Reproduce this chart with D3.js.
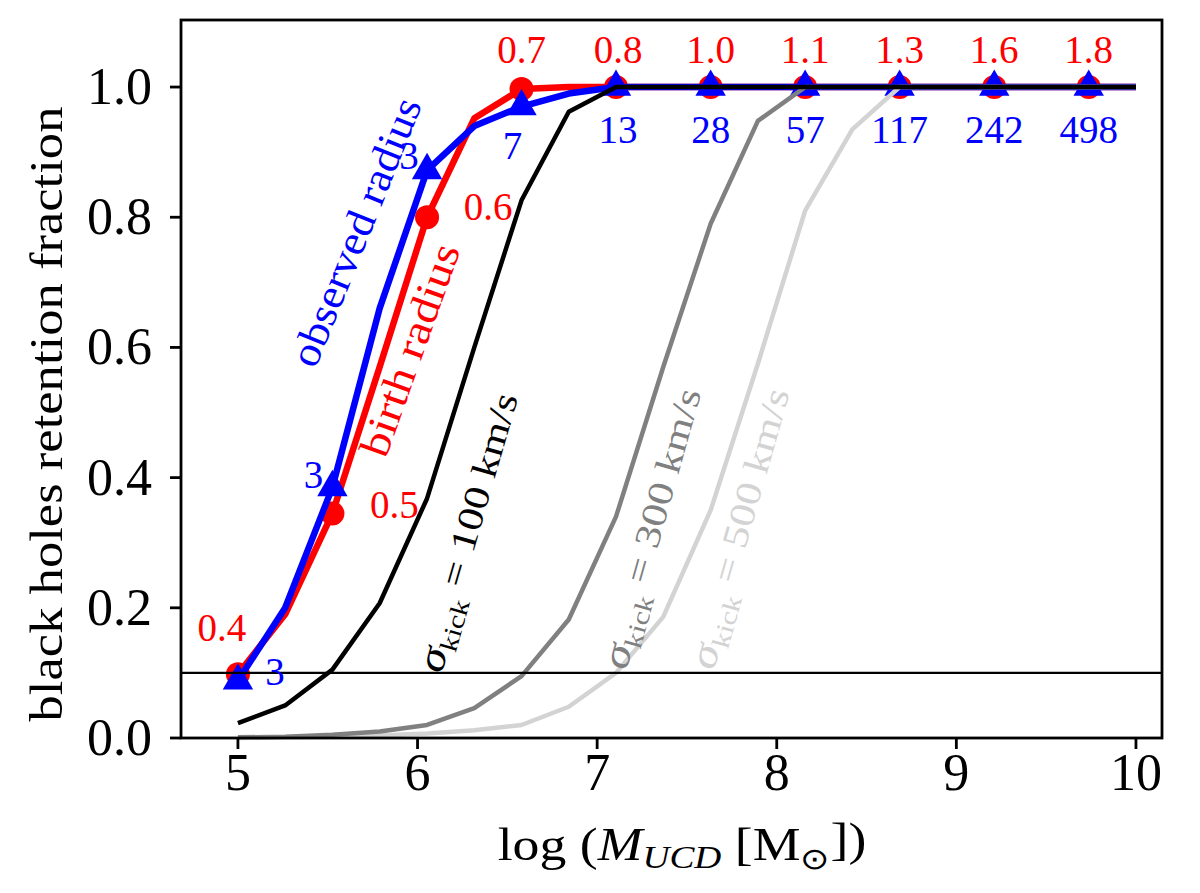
<!DOCTYPE html>
<html><head><meta charset="utf-8">
<script src="https://cdn.jsdelivr.net/npm/d3@7/dist/d3.min.js"></script>
<style>
body{margin:0;background:#fff}
text{font-family:"Liberation Serif","Times New Roman",serif}
</style>
</head><body>
<svg id="chart" width="1200" height="893"></svg>
<script>
// ---------------- data ----------------
const logMass = [5.000,5.263,5.526,5.789,6.053,6.316,6.579,6.842,7.105,7.368,7.632,7.895,8.158,8.421,8.684,8.947,9.211,9.474,9.737,10.000];
const birthRadius    = [0.098,0.19,0.345,0.57,0.80,0.952,0.997,1.0,1.0,1.0,1.0,1.0,1.0,1.0,1.0,1.0,1.0,1.0,1.0,1.0];
const observedRadius = [0.088,0.20,0.385,0.66,0.872,0.94,0.970,0.99,1.0,1.0,1.0,1.0,1.0,1.0,1.0,1.0,1.0,1.0,1.0,1.0];
const kick100 = [0.023,0.05,0.105,0.207,0.368,0.60,0.826,0.962,1.0,1.0,1.0,1.0,1.0,1.0,1.0,1.0,1.0,1.0,1.0,1.0];
const kick300 = [0.001,0.002,0.005,0.010,0.020,0.046,0.095,0.182,0.34,0.57,0.79,0.948,1.0,1.0,1.0,1.0,1.0,1.0,1.0,1.0];
const kick500 = [0.000,0.001,0.002,0.004,0.007,0.012,0.020,0.048,0.10,0.186,0.35,0.575,0.81,0.935,1.0,1.0,1.0,1.0,1.0,1.0];
const birthLabels    = ["0.4","0.5","0.6","0.7","0.8","1.0","1.1","1.3","1.6","1.8"];
const observedLabels = ["3","3","3","7","13","28","57","117","242","498"];
const xTicks = [5,6,7,8,9,10];
const yTicks = [0.0,0.2,0.4,0.6,0.8,1.0];
const threshold = 0.1;

// ---------------- layout ----------------
const L=181, R=1162, T=20, B=738;
const svg = d3.select("#chart");
const x = d3.scaleLinear().domain([4.683,10.145]).range([L,R]);
const y = d3.scaleLinear().domain([0,1.103]).range([B,T]);
const line = d3.line().x((d,i)=>x(logMass[i])).y(d=>y(d));
const markIdx = d3.range(0,logMass.length,2);

const RED="#ff0000", BLUE="#0000ff", GRAY="#808080", LGRAY="#d3d3d3";

const plot = svg.append("g");
// birth radius
plot.append("path").datum(birthRadius).attr("d",line).attr("fill","none")
  .attr("stroke",RED).attr("stroke-width",6.5).attr("stroke-linejoin","round");
plot.selectAll("circle.b").data(markIdx).join("circle")
  .attr("cx",i=>x(logMass[i])).attr("cy",i=>y(birthRadius[i])).attr("r",12).attr("fill",RED);
// observed radius
plot.append("path").datum(observedRadius).attr("d",line).attr("fill","none")
  .attr("stroke",BLUE).attr("stroke-width",6.5).attr("stroke-linejoin","round");
const tri = d3.symbol().type(d3.symbolTriangle).size(400);
plot.selectAll("path.o").data(markIdx).join("path")
  .attr("transform",i=>`translate(${x(logMass[i])},${y(observedRadius[i])})`)
  .attr("d",tri()).attr("fill",BLUE);
// kick curves
[[kick500,LGRAY],[kick300,GRAY],[kick100,"#000"]].forEach(([s,c])=>{
  plot.append("path").datum(s).attr("d",line).attr("fill","none")
    .attr("stroke",c).attr("stroke-width",4.5).attr("stroke-linejoin","round");
});
// threshold line
plot.append("line").attr("x1",L).attr("x2",R).attr("y1",y(threshold)).attr("y2",y(threshold))
  .attr("stroke","#000").attr("stroke-width",2.2);

// annotations
const birthOff = [[-16,-46],[62,-8],[61,-10],[0,-39],[2,-37],[0,-37],[0,-37],[0,-37],[0,-37],[0,-37]];
const obsOff   = [[37,-9],[-19,-12],[-18,-14],[-9,40],[2,43],[0,43],[0,43],[0,43],[0,43],[0,43]];
markIdx.forEach((i,k)=>{
  svg.append("text").attr("x",x(logMass[i])+birthOff[k][0]).attr("y",y(birthRadius[i])+birthOff[k][1])
    .attr("dy","0.33em").attr("text-anchor","middle").attr("font-size",39).attr("fill",RED).text(birthLabels[k]);
  svg.append("text").attr("x",x(logMass[i])+obsOff[k][0]).attr("y",y(observedRadius[i])+obsOff[k][1])
    .attr("dy","0.33em").attr("text-anchor","middle").attr("font-size",39).attr("fill",BLUE).text(observedLabels[k]);
});

// rotated labels
function rotLabel(cx,cy,ang,len,color,size,build){
  const g = svg.append("g").attr("transform",`translate(${cx},${cy}) rotate(${-ang})`);
  const t = g.append("text").attr("text-anchor","middle").attr("dy","0.33em")
    .attr("font-size",size).attr("fill",color);
  build(t);
  const w = t.node().getBBox().width;
  t.attr("transform",`scale(${len/w},1)`);
}
rotLabel(356,232,68,286,BLUE,42,t=>t.text("observed radius"));
rotLabel(410,350,70.3,223,RED,42,t=>t.text("birth radius"));
function kickText(v){return t=>{
  t.append("tspan").attr("font-style","italic").attr("font-size",40).text("σ");
  t.append("tspan").attr("font-size",25).attr("dy","0.3em").text("kick");
  t.append("tspan").attr("dy","-0.3em").text(" = "+v+" km/s");
};}
rotLabel(470,533,73.9,288,"#000",36,kickText(100));
rotLabel(654,529,74.3,289,GRAY,36,kickText(300));
rotLabel(742,529,74.1,289,LGRAY,36,kickText(500));

// axes box
svg.append("rect").attr("x",L).attr("y",T).attr("width",R-L).attr("height",B-T)
  .attr("fill","none").attr("stroke","#000").attr("stroke-width",2.8);
// x ticks
const xa = svg.append("g");
xTicks.forEach(v=>{
  xa.append("line").attr("x1",x(v)).attr("x2",x(v)).attr("y1",B).attr("y2",B+11).attr("stroke","#000").attr("stroke-width",2.8);
  xa.append("text").attr("x",x(v)).attr("y",790).attr("text-anchor","middle").attr("font-size",52).text(v);
});
const ya = svg.append("g");
yTicks.forEach(v=>{
  ya.append("line").attr("x1",L-11).attr("x2",L).attr("y1",y(v)).attr("y2",y(v)).attr("stroke","#000").attr("stroke-width",2.8);
  ya.append("text").attr("x",152).attr("y",y(v)+17).attr("text-anchor","end").attr("font-size",52).text(v.toFixed(1));
});
// axis titles
const yl = svg.append("text").attr("transform","translate(47,414) rotate(-90)").attr("text-anchor","middle")
  .attr("dy","0.33em").attr("font-size",46).text("black holes retention fraction");
{const w=yl.node().getBBox().width; yl.attr("transform",`translate(47,414) rotate(-90) scale(${615/w},1)`);}
const xl = svg.append("text").attr("text-anchor","middle").attr("font-size",46);
xl.append("tspan").text("log (");
xl.append("tspan").attr("font-style","italic").text("M");
xl.append("tspan").attr("font-style","italic").attr("font-size",32).attr("dy","0.25em").text("UCD");
xl.append("tspan").attr("dy","-0.18em").text(" [M");
xl.append("tspan").attr("font-size",30).attr("dy","0.3em").text("⊙");
xl.append("tspan").attr("dy","-0.3em").text("])");
{const w=xl.node().getBBox().width; xl.attr("transform",`translate(682,860) scale(${368/w},1)`);}
</script>
</body></html>
